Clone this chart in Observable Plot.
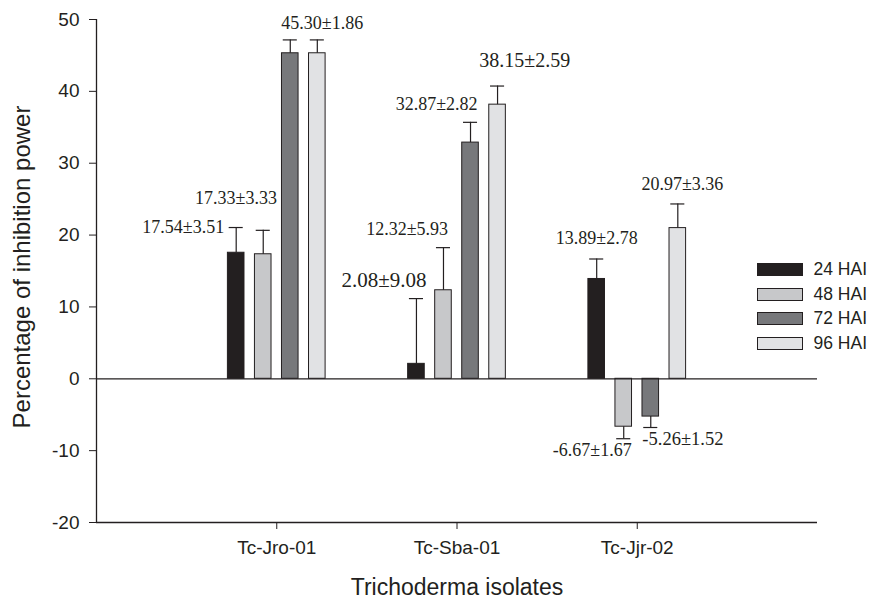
<!DOCTYPE html>
<html><head><meta charset="utf-8">
<script src="https://cdn.jsdelivr.net/npm/d3@7"></script>
<script src="https://cdn.jsdelivr.net/npm/@observablehq/plot@0.6"></script>
<style>
body{margin:0;background:#fff;}
#wrap{position:relative;width:876px;height:601px;}
.legend{position:absolute;left:757px;top:257px;font-family:"Liberation Sans",Arial,sans-serif;font-size:17.5px;color:#231f20;}
.legend .row{display:flex;align-items:center;height:24.8px;}
.legend .sw{width:44px;height:11px;border:1px solid #231f20;margin-right:10.5px;}
</style></head>
<body><div id="wrap"></div>
<script>
// ---- data ----
const isolates = ["Tc-Jro-01", "Tc-Sba-01", "Tc-Jjr-02"];
const series = ["24 HAI", "48 HAI", "72 HAI", "96 HAI"];
const hai24 = [17.54, 2.08, 13.89];
const hai48 = [17.33, 12.32, -6.67];
const hai72 = [45.30, 32.87, -5.26];
const hai96 = [45.30, 38.15, 20.97];
const se24 = [3.51, 9.08, 2.78];
const se48 = [3.33, 5.93, 1.67];
const se72 = [1.86, 2.82, 1.52];
const se96 = [1.86, 2.59, 3.36];
const yTicks = [-20, -10, 0, 10, 20, 30, 40, 50];
const yTitle = "Percentage of inhibition power";
const xTitle = "Trichoderma isolates";

// ---- styling / layout ----
const colors = ["#231f20", "#c7c8ca", "#77787b", "#e1e2e4"];
const ink = "#231f20";
const means = [hai24, hai48, hai72, hai96];
const errs = [se24, se48, se72, se96];
const rows = series.flatMap((s, si) => isolates.map((iso, gi) => ({
  iso, gi, series: s, si, mean: means[si][gi], err: errs[si][gi]
})));
const step = 0.15, halfBar = 0.046, halfCap = 0.039;
const xc = d => d.gi + 1 + (d.si - 1.5) * step;
const tip = d => d.mean + Math.sign(d.mean) * d.err;
const fmt = d => d.mean.toFixed(2) + "±" + d.err.toFixed(2);

// label placement relative to the error-bar tip: [group, series, anchor, dx, dy, size]
const labelLayout = [
  [0, 0, "end", -12, 0, 18],
  [0, 1, "end", 13.7, -32.4, 18],
  [0, 3, "middle", 5, -16.7, 18],
  [1, 0, "end", 10, -18, 21],
  [1, 1, "end", 4.6, -18.7, 18],
  [1, 2, "end", 7, -18.4, 18],
  [1, 3, "start", -18.4, -25.5, 20],
  [2, 0, "middle", 0, -21, 18],
  [2, 1, "end", 8, 11.4, 18],
  [2, 2, "start", -8.4, 11.3, 18.5],
  [2, 3, "middle", 4.6, -19.3, 18]
];
const labelMarks = labelLayout.map(([g, s, anchor, dx, dy, size]) => {
  const d = rows.find(r => r.gi === g && r.si === s);
  return Plot.text([d], {
    x: xc, y: tip, text: fmt, textAnchor: anchor, dx, dy,
    fontSize: size, fontFamily: '"Liberation Serif", "Times New Roman", serif', fill: ink
  });
});

const chart = Plot.plot({
  width: 876, height: 601,
  marginTop: 19, marginRight: 59, marginBottom: 79, marginLeft: 96,
  style: {fontFamily: '"Liberation Sans", Arial, sans-serif', color: ink, background: "#fff"},
  x: {domain: [0, 4]},
  y: {domain: [-20, 50]},
  color: {domain: series, range: colors},
  marks: [
    Plot.rectY(rows, {x1: d => xc(d) - halfBar, x2: d => xc(d) + halfBar, y1: 0, y2: "mean",
      fill: "series", stroke: ink, strokeWidth: 1}),
    Plot.ruleX(rows, {x: xc, y1: "mean", y2: tip, stroke: ink, strokeWidth: 1.2}),
    Plot.ruleY(rows, {y: tip, x1: d => xc(d) - halfCap, x2: d => xc(d) + halfCap, stroke: ink, strokeWidth: 1.2}),
    Plot.ruleY([0], {stroke: ink, strokeWidth: 1.3}),
    Plot.ruleY([-20], {stroke: ink, strokeWidth: 1.3}),
    Plot.ruleX([0], {stroke: ink, strokeWidth: 1.3}),
    Plot.axisY({ticks: yTicks, tickFormat: d => String(d), tickSize: 7, tickPadding: 10, fontSize: 19, label: null}),
    Plot.axisX({ticks: [1, 2, 3], tickFormat: i => isolates[i - 1], tickSize: 7, tickPadding: 11, fontSize: 19, label: null}),
    Plot.text([yTitle], {frameAnchor: "left", textAnchor: "middle", lineAnchor: "middle", rotate: -90, dx: -74, dy: -4, fontSize: 24, fill: ink}),
    Plot.text([xTitle], {frameAnchor: "bottom", textAnchor: "middle", lineAnchor: "middle", dy: 65, fontSize: 23, fill: ink}),
    ...labelMarks
  ]
});

const wrap = document.getElementById("wrap");
wrap.appendChild(chart);
const legend = document.createElement("div");
legend.className = "legend";
series.forEach((s, i) => {
  const row = document.createElement("div");
  row.className = "row";
  const sw = document.createElement("span");
  sw.className = "sw";
  sw.style.background = colors[i];
  const t = document.createElement("span");
  t.textContent = s;
  row.appendChild(sw); row.appendChild(t);
  legend.appendChild(row);
});
wrap.appendChild(legend);
</script></body></html>
